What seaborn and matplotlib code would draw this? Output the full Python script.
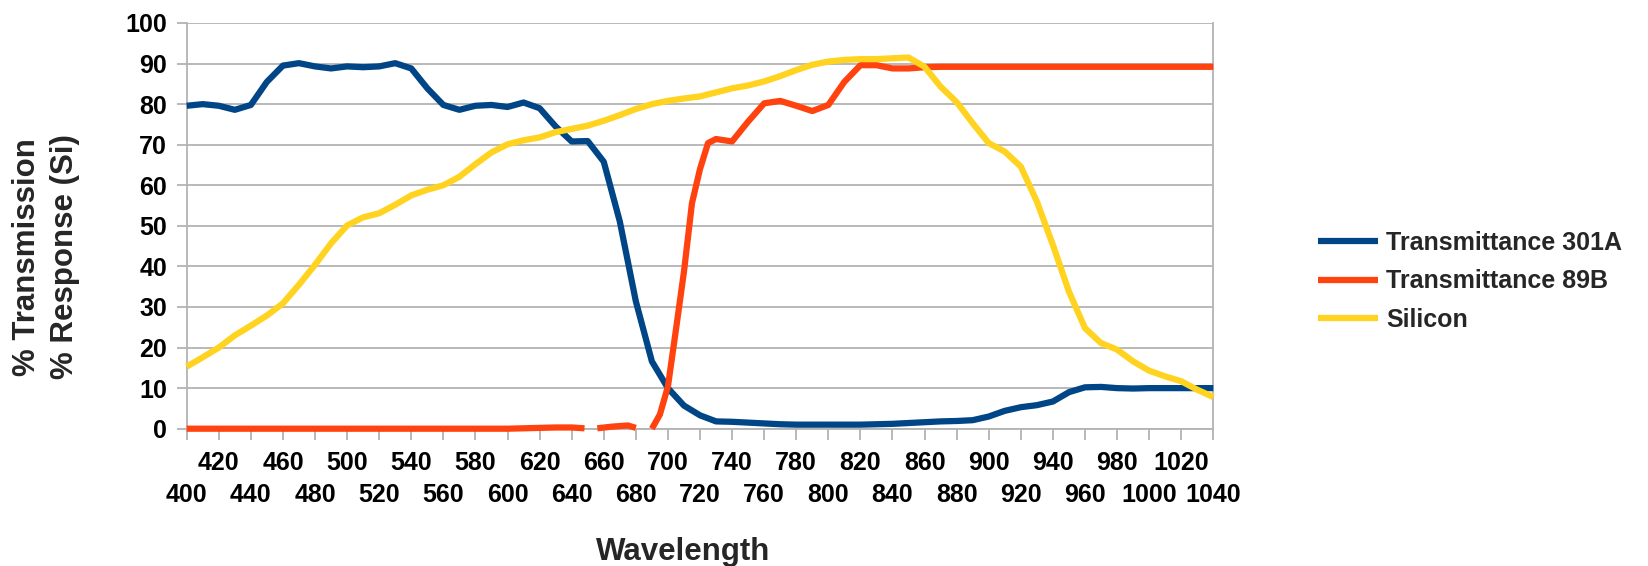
import numpy as np
import pandas as pd
import matplotlib
matplotlib.use("Agg")
import matplotlib.pyplot as plt
import seaborn as sns

# ---------------- data ----------------
wavelength = list(range(400, 1041, 10))

transmittance_301a = [
    79.6, 80.0, 79.6, 78.6, 79.8, 85.5, 89.5, 90.1, 89.3, 88.8,   # 400-490
    89.3, 89.1, 89.3, 90.1, 88.8, 83.9, 79.8, 78.6, 79.6, 79.8,   # 500-590
    79.3, 80.4, 79.0, 74.5, 70.8, 70.9, 65.8, 51.1, 31.4, 16.6,   # 600-690
    10.0, 5.7, 3.3, 1.8, 1.7, 1.5, 1.3, 1.1, 1.0, 1.0,            # 700-790
    1.0, 1.0, 1.0, 1.1, 1.2, 1.4, 1.6, 1.8, 1.9, 2.1,             # 800-890
    3.0, 4.4, 5.3, 5.8, 6.7, 9.0, 10.2, 10.3, 10.0, 9.9,          # 900-990
    10.0, 10.0, 10.0, 10.0, 10.0,                                 # 1000-1040
]

silicon = [
    15.3, 17.6, 20.0, 23.0, 25.4, 27.9, 30.9, 35.5, 40.4, 45.7,   # 400-490
    50.1, 52.1, 53.1, 55.2, 57.5, 58.9, 60.0, 62.1, 65.2, 68.1,   # 500-590
    70.1, 71.1, 71.8, 73.1, 73.9, 74.7, 75.9, 77.3, 78.8, 80.0,   # 600-690
    80.8, 81.4, 81.9, 82.9, 83.9, 84.6, 85.6, 86.9, 88.4, 89.7,   # 700-790
    90.5, 90.9, 91.1, 91.1, 91.3, 91.5, 89.2, 84.3, 80.5, 75.3,   # 800-890
    70.4, 68.3, 64.6, 56.0, 45.3, 33.8, 24.8, 21.1, 19.5, 16.6,   # 900-990
    14.3, 12.9, 11.7, 9.6, 7.8,                                   # 1000-1040
]

# 89B has its own sample positions (with two missing readings -> gaps)
wavelength_89b = [
    400, 500, 600, 620, 630, 640, 648, 652, 656, 665, 675, 680, 685,
    690, 695, 700, 705, 710, 715, 720, 725, 730, 740, 750, 760, 770,
    780, 790, 800, 810, 820, 830, 840, 850, 860, 870, 900, 950, 1000, 1040,
]
transmittance_89b = [
    0.0, 0.0, 0.0, 0.2, 0.3, 0.3, 0.1, np.nan, 0.1, 0.5, 0.8, 0.2, np.nan,
    0.0, 3.5, 10.4, 24.4, 38.7, 55.6, 64.0, 70.4, 71.4, 70.8, 75.7, 80.2, 80.8,
    79.6, 78.3, 79.8, 85.5, 89.6, 89.6, 88.8, 88.8, 89.1, 89.2, 89.2, 89.2, 89.2, 89.2,
]

series_names = ["Transmittance 301A", "Transmittance 89B", "Silicon"]
series_colors = ["#004586", "#ff420e", "#ffd320"]
x_ticks_low = list(range(400, 1041, 40))
x_ticks_high = list(range(420, 1021, 40))
y_ticks = list(range(0, 101, 10))

# ---------------- build long-form table ----------------
frames = []
for name, xs, ys in [
    (series_names[0], wavelength, transmittance_301a),
    (series_names[1], wavelength_89b, transmittance_89b),
    (series_names[2], wavelength, silicon),
]:
    d = pd.DataFrame({"wl": xs, "val": ys})
    d["seg"] = d["val"].isna().cumsum()
    d["series"] = name
    frames.append(d.dropna())
df = pd.concat(frames, ignore_index=True)

# ---------------- style ----------------
sns.set_theme(style="white")
plt.rcParams["font.family"] = ["Liberation Sans", "DejaVu Sans"]
plt.rcParams["font.weight"] = "bold"

W, H = 1648, 566
fig = plt.figure(figsize=(W / 100, H / 100), dpi=100)
left, right, top, bottom = 186.7, 1213.3, 23.0, 428.7
ax = fig.add_axes([left / W, 1 - bottom / H, (right - left) / W, (bottom - top) / H])

grid_c = "#b3b3b3"
LW = 4.5
sns.lineplot(
    data=df, x="wl", y="val", hue="series", hue_order=series_names,
    units="seg", estimator=None, palette=dict(zip(series_names, series_colors)),
    linewidth=LW, ax=ax, legend=True,
)
for ln in ax.lines:
    ln.set_clip_on(False)
    ln.set_zorder(3)
    ln.set_solid_capstyle("butt")
    ln.set_solid_joinstyle("round")

ax.set_xlim(400, 1040)
ax.set_ylim(0, 100)
ax.set_yticks(y_ticks)
ax.set_yticklabels([str(v) for v in y_ticks], fontsize=18, fontweight="bold")
ax.set_xticks(x_ticks_low)
ax.set_xticklabels([str(v) for v in x_ticks_low], fontsize=18, fontweight="bold")
ax.set_xticks(x_ticks_high, minor=True)
ax.set_xticklabels([str(v) for v in x_ticks_high], minor=True, fontsize=18, fontweight="bold")

ax.yaxis.grid(True, color=grid_c, linewidth=1.3)
ax.xaxis.grid(False)
ax.set_axisbelow(True)
for s in ["left", "bottom", "right"]:
    ax.spines[s].set_color(grid_c)
    ax.spines[s].set_linewidth(1.3)
ax.spines["top"].set_visible(False)

ax.tick_params(axis="y", length=7.2, width=1.3, color=grid_c, pad=7, labelcolor="black", left=True)
ax.tick_params(axis="x", which="major", length=8, width=1.3, color=grid_c, pad=31, labelcolor="black", bottom=True)
ax.tick_params(axis="x", which="minor", length=8, width=1.3, color=grid_c, pad=8, labelcolor="black", bottom=True)

ax.set_xlabel("")
ax.set_ylabel("")

fig.text(683 / W, 1 - 551.7 / H, "Wavelength", ha="center", va="center",
         fontsize=22.5, fontweight="bold")
fig.text(46 / W, 1 - 257 / H, "% Transmission\n% Response (Si)", ha="center", va="center",
         rotation=90, fontsize=22.5, fontweight="bold", linespacing=1.38)

handles, labels = ax.get_legend_handles_labels()
leg = ax.legend(
    handles, labels, loc="upper left", bbox_to_anchor=(1318 / W, 1 - 231 / H),
    bbox_transform=fig.transFigure, frameon=False, fontsize=18,
    handlelength=2.4, handletextpad=0.33, labelspacing=0.58, borderpad=0, borderaxespad=0,
)
for t in leg.get_texts():
    t.set_fontweight("bold")
for h in leg.legend_handles:
    h.set_linewidth(LW)

fig.savefig("out.png", dpi=100)
